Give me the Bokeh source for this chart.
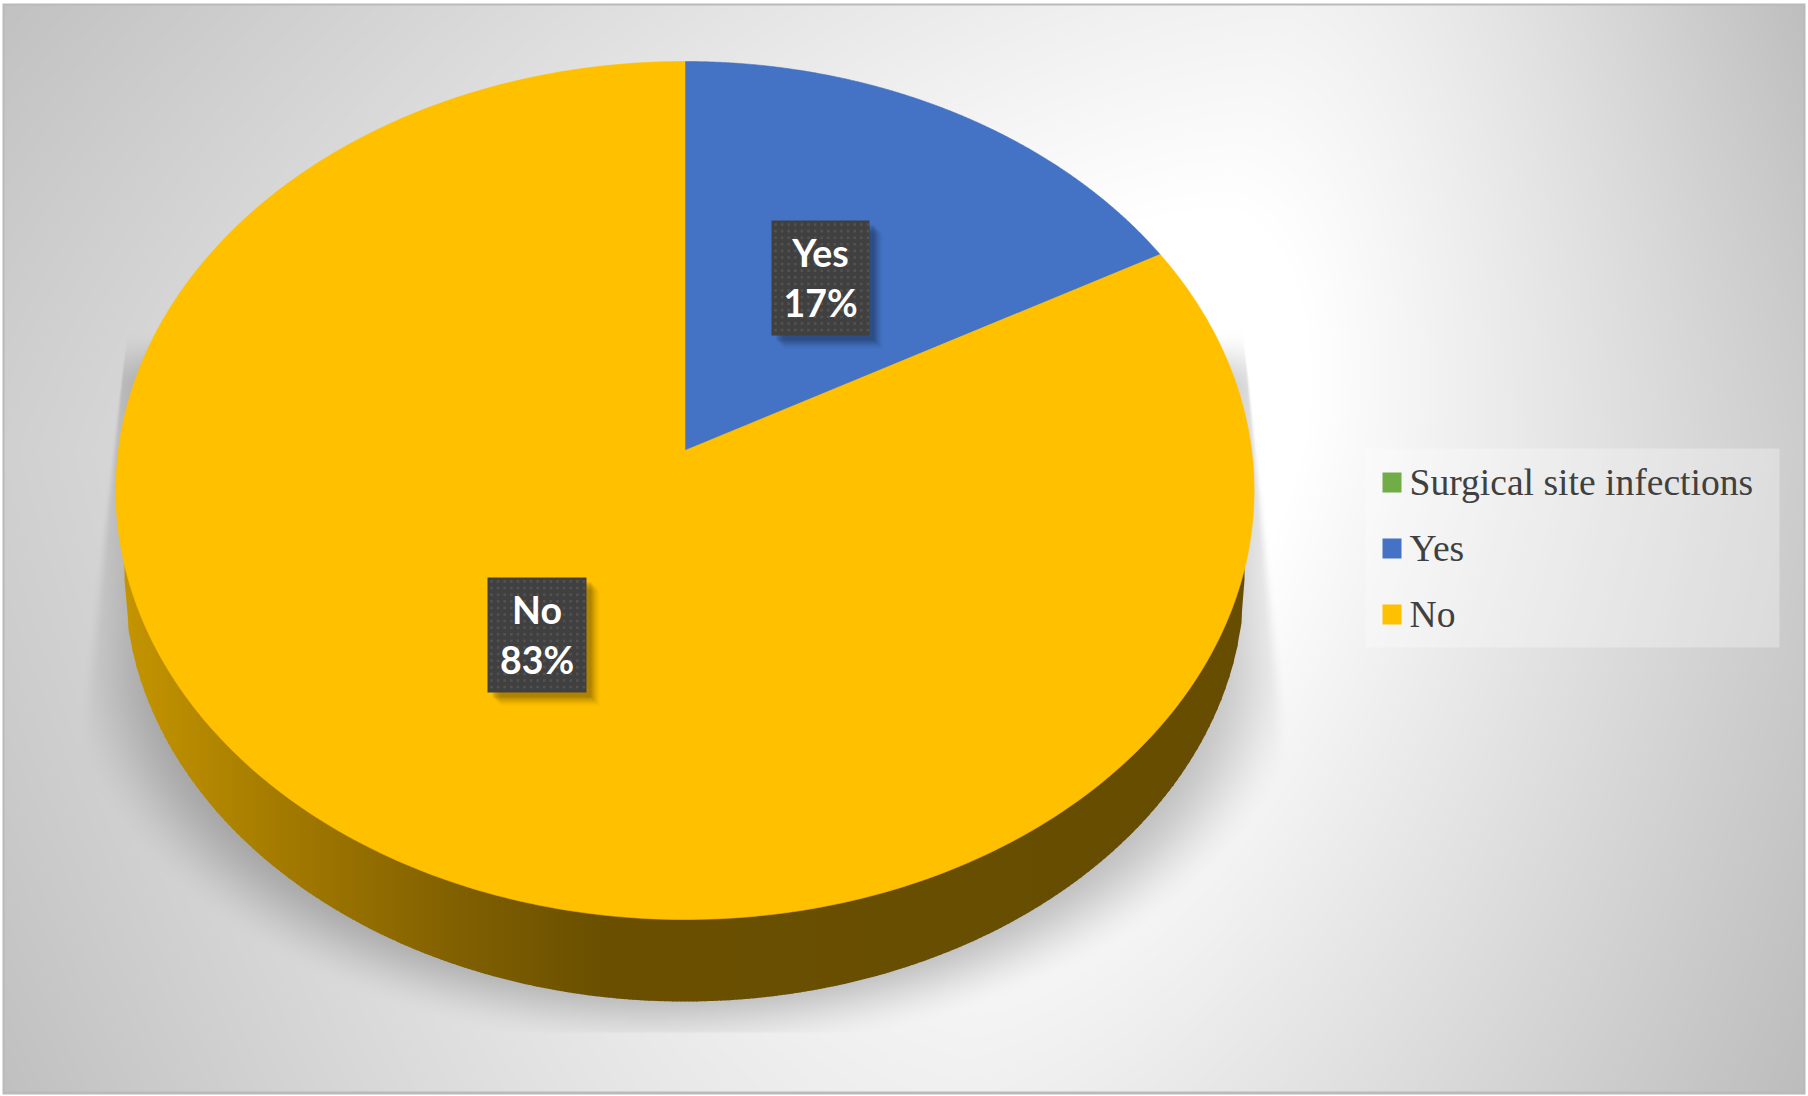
import numpy as np
from bokeh.plotting import figure
from bokeh.embed import file_html
from bokeh.resources import INLINE
from bokeh.core.properties import value

categories = ["Surgical site infections", "Yes", "No"]
shares = [0, 17, 83]
slice_labels = ["Yes\n17%", "No\n83%"]
colors = ["#70ad47", "#4472c4", "#ffc000"]

W, H = 1808, 1096
p = figure(width=W, height=H, x_range=(0, W), y_range=(0, H), output_backend="svg",
           toolbar_location=None, min_border=0, outline_line_color=None, background_fill_color="white",
           border_fill_color="white")
p.axis.visible = False
p.grid.visible = False
p.styles = {"position": "absolute", "left": "0px", "top": "0px"}

def fy(y):
    return H - np.asarray(y, dtype=float)

# --- background gradient and cast shadow, as one image ---
xx, yy = np.meshgrid(np.arange(W) + .5, np.arange(H) + .5)
cx = 1150 - (yy - 450) * .3
cy = 450
Dx = np.where(xx < cx, cx / .806, (W - cx) / .85)
Dy = np.where(yy < cy, 1223, 1656)
tx, ty = np.abs(xx - cx) / Dx, np.abs(yy - cy) / Dy
t = np.sqrt(tx ** 2 + ty ** 2) + .38 * tx * ty
bg = 255 - 77.5 * np.clip(t - .2, 0, 1)

def sstep(v):
    v = np.clip(v, 0, 1)
    return v * v * (3 - 2 * v)

soft = 2 + np.clip(yy - 366, 0, None) * .05
left_line = 122 + (yy - 366) * (75 - 122) / (722 - 366)
right_line = 1247 + (yy - 366) * (1293 - 1247) / (737 - 366)
m = sstep((xx - left_line) / soft) * sstep((right_line - xx) / soft) * sstep((yy - 330) / 60)
d = np.sqrt(((xx - 686) / 630) ** 2 + ((np.maximum(yy, 658) - 658) / 395) ** 2)
m = m * sstep((1.0 - d) / .2)
m = m * sstep((1033 - yy) / 2)
img = bg * (1 - .24 * m)
band = (xx < 4) | (xx > W - 5) | (yy < 5) | (yy > H - 5)
img[band] = 186
outer = (xx < 2) | (xx > W - 3) | (yy < 3) | (yy > H - 2)
img[outer] = 255
g = img.astype(np.uint32)
rgba = (255 << 24) | (g << 16) | (g << 8) | g
p.image_rgba(image=[rgba[::-1]], x=0, y=0, dw=W, dh=H)

# --- pie geometry: a circle seen in perspective ---
X0, Y_top, Y_apex, Y_bot, R = 684.5, 61, 450, 919, 566.6
c = 80 / 858
a = Y_top * c + Y_top - Y_apex

def project(theta):
    u, v = np.sin(theta), np.cos(theta)
    w = 1 + c * v
    return X0 + R * u / w, (a * v + Y_apex) / w

# --- side wall ---
sx0, sy0, srx, sry = 684, 579, 560, 422
edges = np.arange(sx0 - srx, sx0 + srx + 1, 4.0)
def wall_color(x):
    stops_x = [126, 300, 460, 600, 1250]
    r = np.interp(x, stops_x, [196, 160, 128, 107, 102])
    g = np.interp(x, stops_x, [148, 120, 96, 80, 77])
    return "#%02x%02x00" % (int(r), int(g))
xs_w, ys_w, col_w = [], [], []
for x1, x2 in zip(edges[:-1], edges[1:]):
    x3 = min(x2 + 1, sx0 + srx)
    y1 = sy0 + sry * np.sqrt(max(0, 1 - ((x1 - sx0) / srx) ** 2))
    y3 = sy0 + sry * np.sqrt(max(0, 1 - ((x3 - sx0) / srx) ** 2))
    xs_w.append([x1, x3, x3, x1])
    ys_w.append(list(fy([sy0 - 40, sy0 - 40, y3, y1])))
    col_w.append(wall_color((x1 + x2) / 2))
p.patches(xs_w, ys_w, fill_color=col_w, line_color=None)

# --- top face, one slice for each share, starting at 12 o'clock ---
fractions = np.array(shares, dtype=float) / sum(shares)
start = 0.0
for frac, col in zip(fractions, colors):
    if frac == 0:
        continue
    th = np.linspace(start, start + frac * 2 * np.pi, 360)
    xs, ys = project(th)
    p.patch([X0, *xs], fy([Y_apex, *ys]), fill_color=col, line_color=col, line_width=.6)
    start += frac * 2 * np.pi

# --- data labels ---
boxes = [(771, 869, 220, 335), (487, 586, 577, 692)]
for (x1, x2, y1, y2), lab in zip(boxes, slice_labels):
    for off, alpha in [(13, .03), (11, .05), (9, .07), (7, .09), (5, .11)]:
        p.quad(left=x1 + off, right=x2 + off, top=H - (y1 + off), bottom=H - (y2 + off),
               fill_color="black", fill_alpha=alpha, line_color=None)
    p.quad(left=x1, right=x2, top=H - y1, bottom=H - y2, fill_color="#404040", line_color=None)
    gx, gy = np.meshgrid(np.arange(x1 + 4, x2, 6.6), np.arange(y1 + 4, y2, 6.6))
    p.scatter(gx.ravel(), fy(gy.ravel()), marker="square", size=2.6, fill_color="#525252", line_color=None)
    l1, l2 = lab.split("\n")
    xm = (x1 + x2) / 2
    ym = (y1 + y2) / 2
    p.text([xm, xm], fy([ym - 26, ym + 24]), text=[l1, l2], text_align="center", text_baseline="middle",
           text_font=value("Lato"), text_font_style="bold", text_font_size="37.5px", text_color="white")

# --- legend ---
p.quad(left=1365, right=1779, top=H - 448, bottom=H - 647, fill_color="white", fill_alpha=.3, line_color=None)
for i, (name, col) in enumerate(zip(categories, colors)):
    yc = 482 + 66 * i
    p.quad(left=1382, right=1401, top=H - (yc - 10), bottom=H - (yc + 10), fill_color=col, line_color=None)
    p.text([1409], fy([yc]), text=[name], text_baseline="middle", text_font=value("Liberation Serif"),
           text_font_size="37.6px", text_color="#404040")

open("out.html", "w").write(file_html(p, INLINE))
